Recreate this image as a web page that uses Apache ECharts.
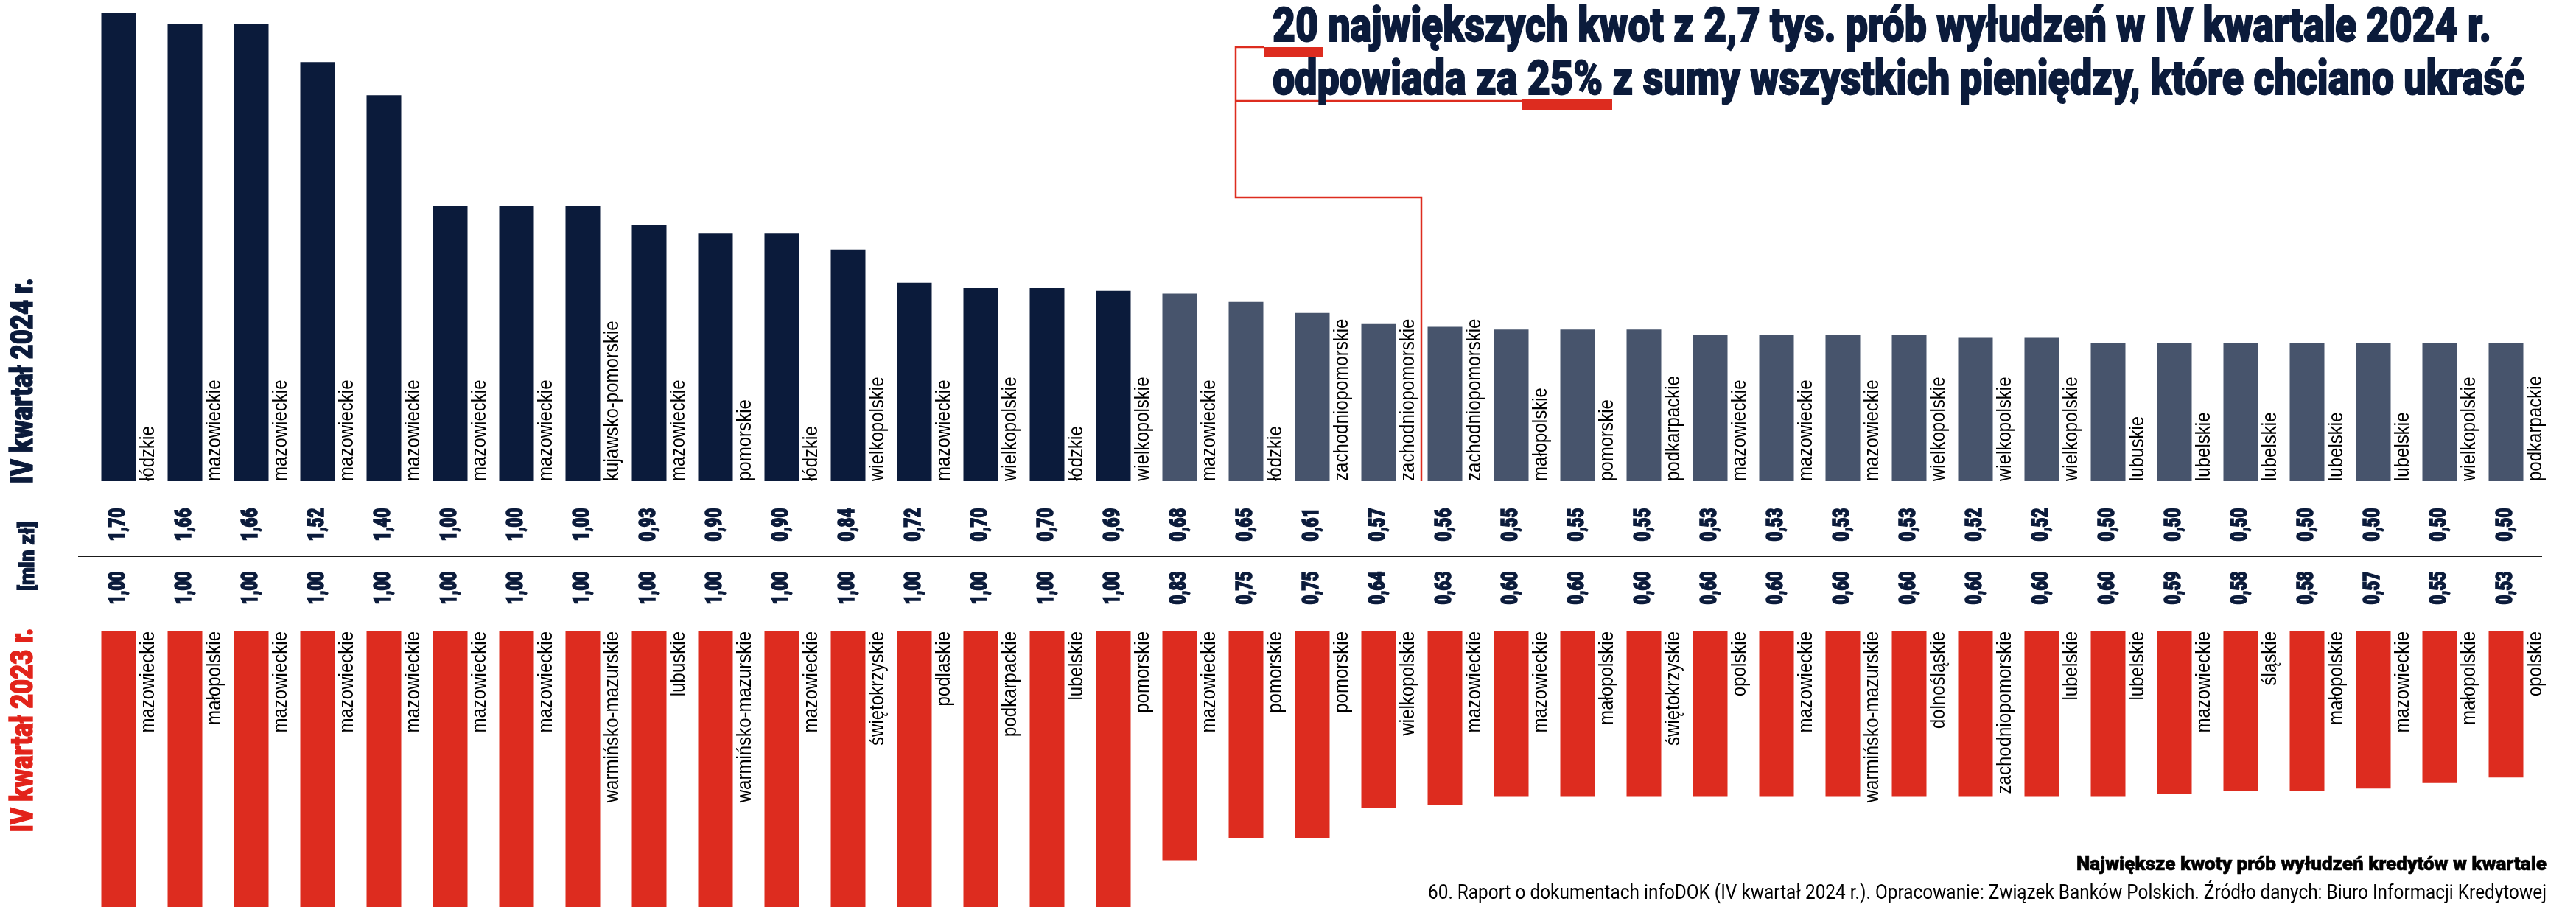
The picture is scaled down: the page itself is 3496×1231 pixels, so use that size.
<!DOCTYPE html>
<html><head><meta charset="utf-8">
<script src="https://cdn.jsdelivr.net/npm/echarts@6/dist/echarts.min.js"></script>
<style>html,body{margin:0;padding:0;background:#fff}#c{width:3496px;height:1231px}</style>
</head><body><div id="c"></div>
<script>
// ---------------- data ----------------
const regions2024 = ['łódzkie','mazowieckie','mazowieckie','mazowieckie','mazowieckie','mazowieckie','mazowieckie','kujawsko-pomorskie','mazowieckie','pomorskie','łódzkie','wielkopolskie','mazowieckie','wielkopolskie','łódzkie','wielkopolskie','mazowieckie','łódzkie','zachodniopomorskie','zachodniopomorskie','zachodniopomorskie','małopolskie','pomorskie','podkarpackie','mazowieckie','mazowieckie','mazowieckie','wielkopolskie','wielkopolskie','wielkopolskie','lubuskie','lubelskie','lubelskie','lubelskie','lubelskie','wielkopolskie','podkarpackie'];
const values2024 = [1.70,1.66,1.66,1.52,1.40,1.00,1.00,1.00,0.93,0.90,0.90,0.84,0.72,0.70,0.70,0.69,0.68,0.65,0.61,0.57,0.56,0.55,0.55,0.55,0.53,0.53,0.53,0.53,0.52,0.52,0.50,0.50,0.50,0.50,0.50,0.50,0.50];
const regions2023 = ['mazowieckie','małopolskie','mazowieckie','mazowieckie','mazowieckie','mazowieckie','mazowieckie','warmińsko-mazurskie','lubuskie','warmińsko-mazurskie','mazowieckie','świętokrzyskie','podlaskie','podkarpackie','lubelskie','pomorskie','mazowieckie','pomorskie','pomorskie','wielkopolskie','mazowieckie','mazowieckie','małopolskie','świętokrzyskie','opolskie','mazowieckie','warmińsko-mazurskie','dolnośląskie','zachodniopomorskie','lubelskie','lubelskie','mazowieckie','śląskie','małopolskie','mazowieckie','małopolskie','opolskie'];
const values2023 = [1.00,1.00,1.00,1.00,1.00,1.00,1.00,1.00,1.00,1.00,1.00,1.00,1.00,1.00,1.00,1.00,0.83,0.75,0.75,0.64,0.63,0.60,0.60,0.60,0.60,0.60,0.60,0.60,0.60,0.60,0.60,0.59,0.58,0.58,0.57,0.55,0.53];
const DARK_COUNT = 16;

const TITLE_1 = '20 największych kwot z 2,7 tys. prób wyłudzeń w IV kwartale 2024 r.';
const TITLE_2 = 'odpowiada za 25% z sumy wszystkich pieniędzy, które chciano ukraść';
const LABEL_2024 = 'IV kwartał 2024 r.';
const LABEL_2023 = 'IV kwartał 2023 r.';
const UNIT = '[mln zł]';
const FOOT_1 = 'Największe kwoty prób wyłudzeń kredytów w kwartale';
const FOOT_2 = '60. Raport o dokumentach infoDOK (IV kwartał 2024 r.). Opracowanie: Związek Banków Polskich. Źródło danych: Biuro Informacji Kredytowej';

// ---------------- style ----------------
const NAVY = '#0b1b3b', GREY = '#47546c', RED = '#dd2c1f', RED_TXT = '#e2231a';
const BAR_W = 47, NAME_GAP = 4, NAME_FS = 27, NAME_SCALE = 0.89;
const VAL_FS = 31, VAL_SCALE = 0.72, VAL_OFF = 59;
const COND = 'Roboto';

const mctx = document.createElement('canvas').getContext('2d');
function tw(text, weight, size, fam) { mctx.font = weight + ' ' + size + 'px ' + fam; return mctx.measureText(text).width; }
function fitText(text, target, weight, size, fam) { return target / tw(text, weight, size, fam); }
const fmt = v => v.toFixed(2).replace('.', ',');
const idx = values2024.map((_, i) => i);

function labelSeries(names, values, xi, yi, isTop) {
  return {
    type: 'custom', xAxisIndex: xi, yAxisIndex: yi, clip: false, silent: true, z: 5,
    data: values.map((v, i) => [i, v]),
    renderItem: (params, api) => {
      const i = params.dataIndex;
      const p = api.coord([api.value(0), 0]);
      return { type: 'group', children: [
        { type: 'text', x: p[0] + BAR_W / 2 + NAME_GAP, y: p[1], rotation: Math.PI / 2, scaleX: NAME_SCALE,
          style: { text: names[i], fontFamily: 'Liberation Sans', fontSize: NAME_FS, fill: '#000',
                   align: isTop ? 'left' : 'right', verticalAlign: 'top' } },
        { type: 'text', x: p[0], y: p[1] + (isTop ? VAL_OFF : -VAL_OFF), rotation: Math.PI / 2, scaleX: VAL_SCALE,
          style: { text: fmt(values[i]), fontFamily: COND, fontWeight: 900, fontSize: VAL_FS, fill: NAVY,
                   stroke: NAVY, lineWidth: 1.6, align: 'center', verticalAlign: 'middle' } }
      ]};
    }
  };
}

function gtext(text, x, y, size, weight, color, target, align, rot, sw) {
  return { type: 'text', x: x, y: y, rotation: rot || 0, scaleX: fitText(text, target, weight, size, COND), z: 20,
    style: { text: text, fontFamily: COND, fontWeight: weight, fontSize: size, fill: color,
             stroke: sw ? color : null, lineWidth: sw || 0, align: align, verticalAlign: 'middle' } };
}

const chart = echarts.init(document.getElementById('c'), null, { renderer: 'canvas' });
chart.setOption({
  animation: false,
  backgroundColor: '#fff',
  grid: [
    { left: 116, top: 17, width: 3330, height: 636 },
    { left: 116, top: 857, width: 3330, height: 374 }
  ],
  xAxis: [
    { type: 'category', gridIndex: 0, data: idx, show: false },
    { type: 'category', gridIndex: 1, data: idx, show: false }
  ],
  yAxis: [
    { type: 'value', gridIndex: 0, min: 0, max: 1.7, show: false },
    { type: 'value', gridIndex: 1, min: 0, max: 1.0, inverse: true, show: false }
  ],
  series: [
    { type: 'bar', xAxisIndex: 0, yAxisIndex: 0, barWidth: BAR_W, data: values2024,
      itemStyle: { color: p => p.dataIndex < DARK_COUNT ? NAVY : GREY } },
    { type: 'bar', xAxisIndex: 1, yAxisIndex: 1, barWidth: BAR_W, data: values2023,
      itemStyle: { color: RED } },
    labelSeries(regions2024, values2024, 0, 0, true),
    labelSeries(regions2023, values2023, 1, 1, false)
  ],
  graphic: [
    { type: 'line', z: 1, shape: { x1: 106, y1: 755, x2: 3450, y2: 755 }, style: { stroke: '#1a1a1a', lineWidth: 2 } },
    { type: 'polyline', z: 1, shape: { points: [[1716, 64], [1677, 64], [1677, 268], [1929, 268], [1929, 653]] },
      style: { stroke: RED, lineWidth: 2.5, fill: null } },
    { type: 'line', z: 1, shape: { x1: 1677, y1: 137, x2: 2065, y2: 137 }, style: { stroke: RED, lineWidth: 2.5 } },
    { type: 'rect', z: 2, shape: { x: 1716, y: 64, width: 79, height: 14 }, style: { fill: RED } },
    { type: 'rect', z: 2, shape: { x: 2065, y: 135, width: 123, height: 14 }, style: { fill: RED } },
    gtext(TITLE_1, 1727, 40, 65, 900, NAVY, 1654, 'left', 0, 1.8),
    gtext(TITLE_2, 1727, 112, 65, 900, NAVY, 1699, 'left', 0, 1.8),
    gtext(LABEL_2024, 33, 517, 42, 900, NAVY, 279, 'center', Math.PI / 2, 1.4),
    gtext(LABEL_2023, 33, 991, 42, 900, RED_TXT, 277, 'center', Math.PI / 2, 1.4),
    gtext(UNIT, 39, 755, 28, 900, NAVY, 94, 'center', Math.PI / 2, 1.2),
    gtext(FOOT_1, 3456, 1174, 26, 900, '#000', 638, 'right', 0, 0.6),
    gtext(FOOT_2, 3456, 1213, 28, 'normal', '#000', 1518, 'right')
  ]
});
</script>
</body></html>
